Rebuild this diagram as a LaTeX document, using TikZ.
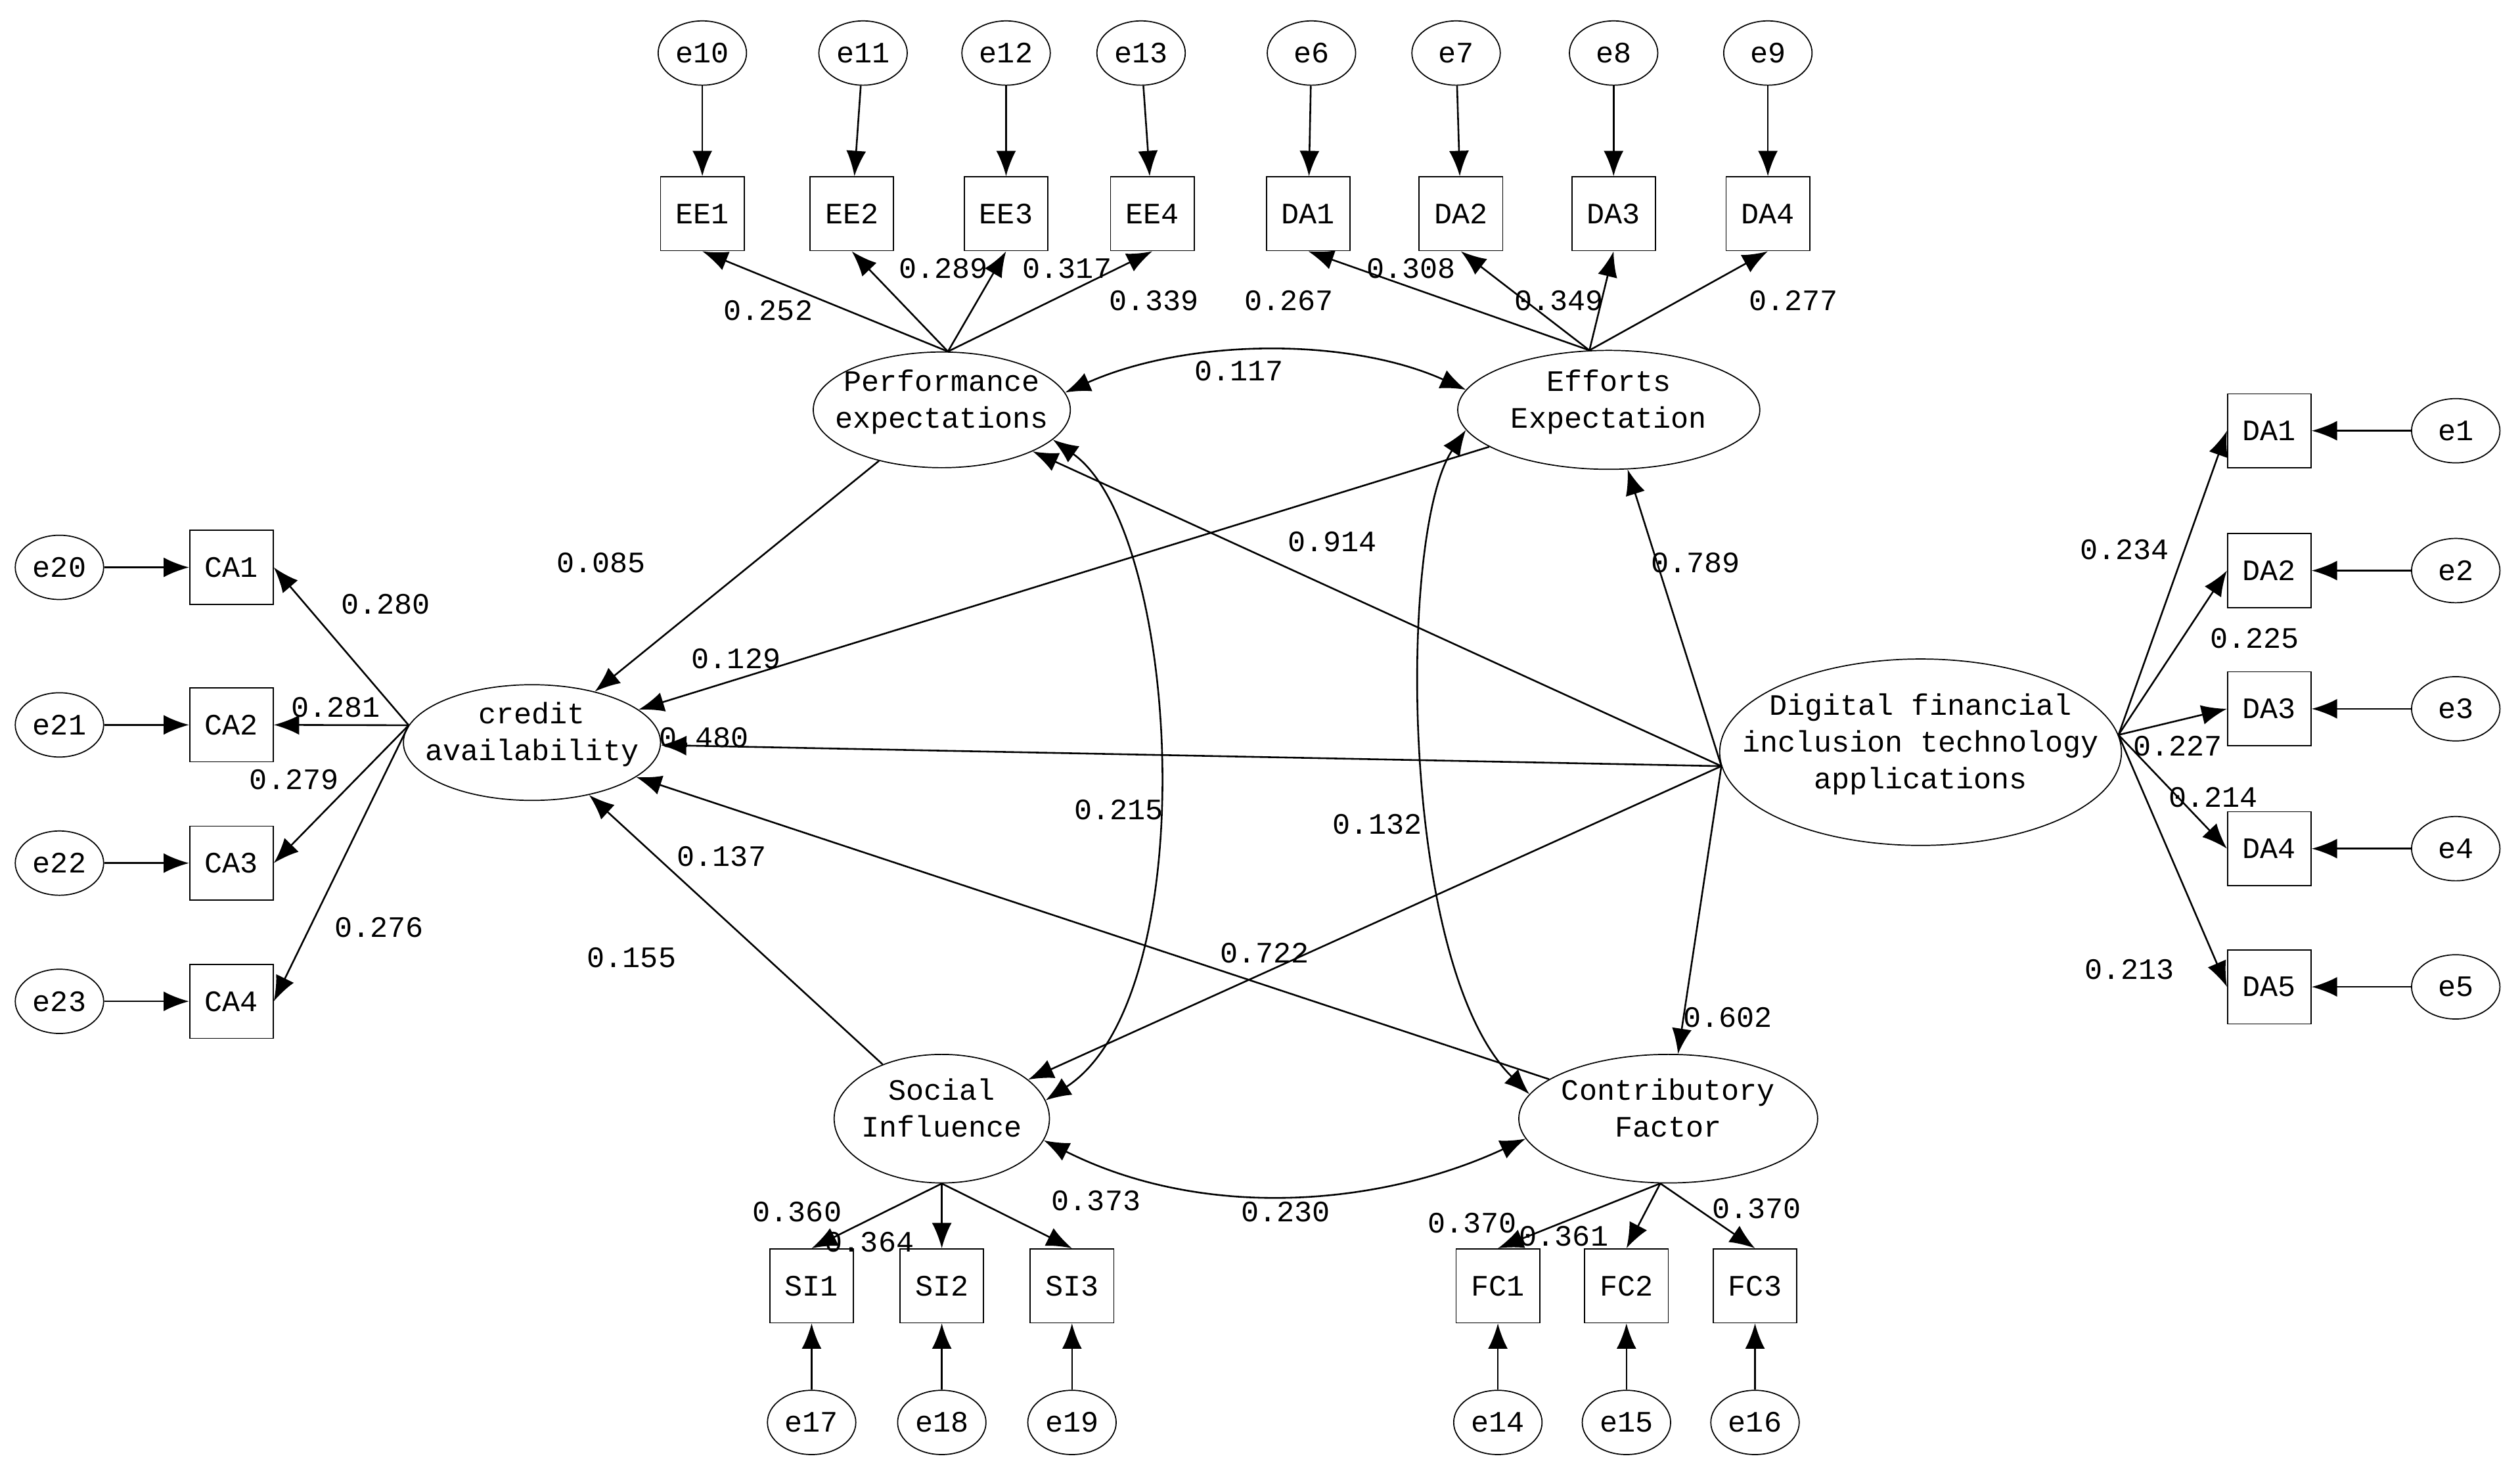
\documentclass[tikz,border=0pt]{standalone}
\usepackage{fontspec}
\setmainfont{Liberation Mono}
\usetikzlibrary{shapes.geometric,arrows.meta}
\newcommand{\lattext}[1]{\smash{\makebox[0pt]{\begin{tabular}{@{}c@{}}#1\end{tabular}}}}
\begin{document}
\begin{tikzpicture}[x=0.02cm,y=-0.02cm,
  every node/.style={font=\fontsize{10.5}{13}\selectfont},
  lat/.style={draw,ellipse,inner sep=0pt},
  obs/.style={draw,rectangle,minimum width=1.04cm,minimum height=0.92cm,inner sep=0pt},
  err/.style={draw,ellipse,minimum width=1.1cm,minimum height=0.8cm,inner sep=0pt},
  arr/.style={-{Latex[length=9pt,width=7pt]},line width=0.6pt},
  dbl/.style={{Latex[length=9pt,width=7pt]}-{Latex[length=9pt,width=7pt]},line width=0.6pt},
  lab/.style={inner sep=0pt}]
\useasboundingbox (0,0) rectangle (1568,915);
% latent variables
\node[lat,minimum width=3.2cm,minimum height=1.44cm] (pe) at (586,255) {\lattext{Performance\\expectations}};
\node[lat,minimum width=3.76cm,minimum height=1.48cm] (ee) at (1001,255) {\lattext{Efforts\\Expectation}};
\node[lat,minimum width=5cm,minimum height=2.32cm] (df) at (1195,468) {\lattext{Digital financial\\inclusion technology\\applications}};
\node[lat,minimum width=3.2cm,minimum height=1.44cm] (ca) at (331,462) {\lattext{credit\\availability}};
\node[lat,minimum width=2.68cm,minimum height=1.6cm] (si) at (586,696) {\lattext{Social\\Influence}};
\node[lat,minimum width=3.72cm,minimum height=1.6cm] (cf) at (1038,696) {\lattext{Contributory\\Factor}};
% top indicators
\foreach \n/\t/\x/\e/\ex in {ee1/EE1/437/e10/437, ee2/EE2/530/e11/537, ee3/EE3/626/e12/626, ee4/EE4/717/e13/710,
  ta1/DA1/814/e6/816, ta2/DA2/909/e7/906, ta3/DA3/1004/e8/1004, ta4/DA4/1100/e9/1100}{
  \node[obs] (\n) at (\x,133) {\t};
  \node[err] (\e) at (\ex,33) {\e};
  \draw[arr] (\e) -- (\n);
}
% right indicators
\foreach \n/\t/\y/\e in {da1/DA1/268/e1, da2/DA2/355/e2, da3/DA3/441/e3, da4/DA4/528/e4, da5/DA5/614/e5}{
  \node[obs] (\n) at (1412,\y) {\t};
  \node[err] (\e) at (1528,\y) {\e};
  \draw[arr] (\e) -- (\n);
}
% left indicators
\foreach \n/\t/\y/\e in {ca1/CA1/353/e20, ca2/CA2/451/e21, ca3/CA3/537/e22, ca4/CA4/623/e23}{
  \node[obs] (\n) at (144,\y) {\t};
  \node[err] (\e) at (37,\y) {\e};
  \draw[arr] (\e) -- (\n);
}
% bottom indicators
\foreach \n/\t/\x/\e in {si1/SI1/505/e17, si2/SI2/586/e18, si3/SI3/667/e19, fc1/FC1/932/e14, fc2/FC2/1012/e15, fc3/FC3/1092/e16}{
  \node[obs] (\n) at (\x,800) {\t};
  \node[err] (\e) at (\x,885) {\e};
  \draw[arr] (\e) -- (\n);
}
% loadings
\foreach \t in {ee1,ee2,ee3,ee4} \draw[arr] (pe.84) -- (\t.south);
\foreach \t in {ta1,ta2,ta3,ta4} \draw[arr] (ee.108) -- (\t.south);
\foreach \t in {da1,da2,da3,da4,da5} \draw[arr] (df.5) -- (\t.west);
\foreach \t in {ca1,ca2,ca3,ca4} \draw[arr] (ca.172) -- (\t.east);
\foreach \t in {si1,si2,si3} \draw[arr] (si.south) -- (\t.north);
\foreach \t in {fc1,fc2,fc3} \draw[arr] (cf.263) -- (\t.north);
% structural paths
\coordinate (dfw) at (df.184);
\draw[arr] (pe) -- (ca);
\draw[arr] (ee) -- (ca);
\draw[arr] (dfw) -- (pe);
\draw[arr] (dfw) -- (ee);
\draw[arr] (dfw) -- (ca);
\draw[arr] (dfw) -- (si);
\draw[arr] (dfw) -- (cf);
\draw[arr] (si) -- (ca);
\draw[arr] (cf) -- (ca);
% covariances
\draw[dbl] (pe.8) .. controls (740,210) and (840,210) .. (ee.172);
\draw[dbl] (pe.-15) .. controls (735,330) and (750,620) .. (si.10);
\draw[dbl] (ee.188) .. controls (870,330) and (870,600) .. (cf.170);
\draw[dbl] (si.-12) .. controls (750,760) and (860,750) .. (cf.188);
% coefficients
\foreach \v/\x/\y in {0.252/478/193, 0.289/587/167, 0.317/664/167, 0.339/718/187, 0.267/802/187,
  0.308/878/167, 0.349/970/187, 0.277/1116/187, 0.117/771/231, 0.914/829/337, 0.789/1055/350,
  0.085/374/350, 0.129/458/410, 0.280/240/376, 0.281/209/440, 0.480/438/459, 0.279/183/485,
  0.215/696/504, 0.132/857/513, 0.137/449/533, 0.276/236/577, 0.155/393/596, 0.722/787/593,
  0.602/1075/633, 0.230/800/754, 0.360/496/754, 0.364/541/773, 0.373/682/747, 0.370/916/761,
  0.361/973/769, 0.370/1093/752, 0.234/1322/342, 0.225/1403/397, 0.227/1355/464, 0.214/1377/496,
  0.213/1325/603}
  \node[lab] at (\x,\y) {\v};
\end{tikzpicture}
\end{document}
